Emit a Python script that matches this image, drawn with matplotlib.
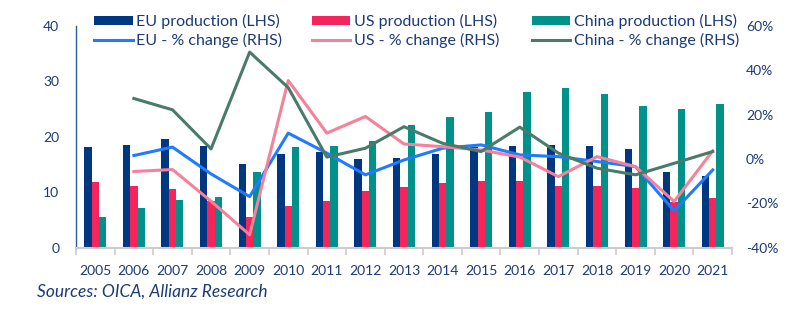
import numpy as np
import matplotlib
matplotlib.use("Agg")
import matplotlib.pyplot as plt
from matplotlib.ticker import FuncFormatter, MultipleLocator

years = [str(y) for y in range(2005, 2022)]

# production, millions of vehicles (LHS)
eu_prod = [18.2, 18.6, 19.6, 18.3, 15.2, 16.9, 17.3, 16.1, 16.2, 17.0, 18.2, 18.4, 18.6, 18.4, 17.9, 13.6, 12.9]
us_prod = [11.8, 11.2, 10.6, 8.5, 5.5, 7.6, 8.5, 10.2, 11.0, 11.6, 12.0, 12.0, 11.1, 11.2, 10.7, 8.2, 9.0]
cn_prod = [5.5, 7.1, 8.7, 9.2, 13.6, 18.1, 18.3, 19.2, 22.1, 23.6, 24.5, 28.1, 28.9, 27.7, 25.6, 25.1, 26.0]

# % change (RHS), from 2006
eu_chg = [1.6, 5.4, -6.7, -16.9, 11.7, 2.7, -7.1, -0.4, 4.9, 6.4, 1.9, 1.1, -1.1, -3.4, -23.3, -4.9]
us_chg = [-5.6, -4.7, -19.0, -34.1, 35.4, 11.7, 19.2, 6.8, 5.6, 4.1, 0.9, -7.9, 1.1, -3.4, -19.1, 3.7]
cn_chg = [27.3, 22.2, 4.6, 48.2, 32.2, 0.9, 4.9, 14.6, 7.1, 3.4, 14.4, 2.7, -4.1, -7.1, -1.9, 3.4]

navy = "#003781"
red = "#F5245A"
teal = "#00918A"
blue_line = "#1F7BFF"
pink_line = "#F5819A"
green_line = "#4A7B68"
txt = "#1B3A75"

plt.rcParams['font.family'] = ['Lato', 'DejaVu Sans']

fig = plt.figure(figsize=(8, 3.24), dpi=100)
ax = fig.add_axes([0.095, 0.235, 0.82, 0.685])

x = np.arange(len(years))
w = 0.19
ax.bar(x - w, eu_prod, w, color=navy, label="EU production (LHS)")
ax.bar(x, us_prod, w, color=red, label="US production (LHS)")
ax.bar(x + w, cn_prod, w, color=teal, label="China production (LHS)")

ax.set_xlim(-0.5, len(years) - 0.5)
ax.set_ylim(0, 40)
ax.yaxis.set_major_locator(MultipleLocator(10))
ax.set_xticks(x)
ax.set_xticklabels(years)
ax.set_xticks(np.arange(-0.5, len(years), 1), minor=True)
ax.tick_params(axis='x', which='major', length=0, pad=12, labelsize=10, labelcolor=txt)
ax.tick_params(axis='x', which='minor', length=5, color="#cccccc", width=1.2)
ax.tick_params(axis='y', length=0, pad=12, labelsize=10, labelcolor=txt)

for s in ['top', 'right']:
    ax.spines[s].set_visible(False)
ax.spines['left'].set_color("#2a5e99")
ax.spines['left'].set_linewidth(1.0)
ax.spines['bottom'].set_color("#cccccc")
ax.spines['bottom'].set_linewidth(1.5)

ax2 = ax.twinx()
ax2.set_ylim(-40, 60)
ax2.yaxis.set_major_locator(MultipleLocator(20))
ax2.yaxis.set_major_formatter(FuncFormatter(lambda v, p: f"{v:.0f}%"))
ax2.tick_params(axis='y', length=0, pad=10, labelsize=10, labelcolor=txt)
for s in ['top', 'right', 'left', 'bottom']:
    ax2.spines[s].set_visible(False)

ax2.plot(x[1:], eu_chg, color=blue_line, lw=2.2, label="EU - % change (RHS)")
ax2.plot(x[1:], us_chg, color=pink_line, lw=2.2, label="US - % change (RHS)")
ax2.plot(x[1:], cn_chg, color=green_line, lw=2.2, label="China - % change (RHS)")

h1, l1 = ax.get_legend_handles_labels()
h2, l2 = ax2.get_legend_handles_labels()

# one small legend per country so the columns sit where the reference has them
for i, xpos in enumerate([0.118, 0.39, 0.665]):
    leg = fig.legend([h1[i], h2[i]], [l1[i], l2[i]], loc='upper left',
                     bbox_to_anchor=(xpos, 0.957), borderpad=0, borderaxespad=0,
                     frameon=False, fontsize=11.5, handlelength=2.4, handleheight=0.55,
                     handletextpad=0.2, labelspacing=0.25)
    for t in leg.get_texts():
        t.set_color(txt)

fig.text(0.046, 0.099, "Sources: OICA, Allianz Research", style='italic',
         fontsize=12.5, color=txt, va='center')

fig.savefig("out.png", dpi=100)
